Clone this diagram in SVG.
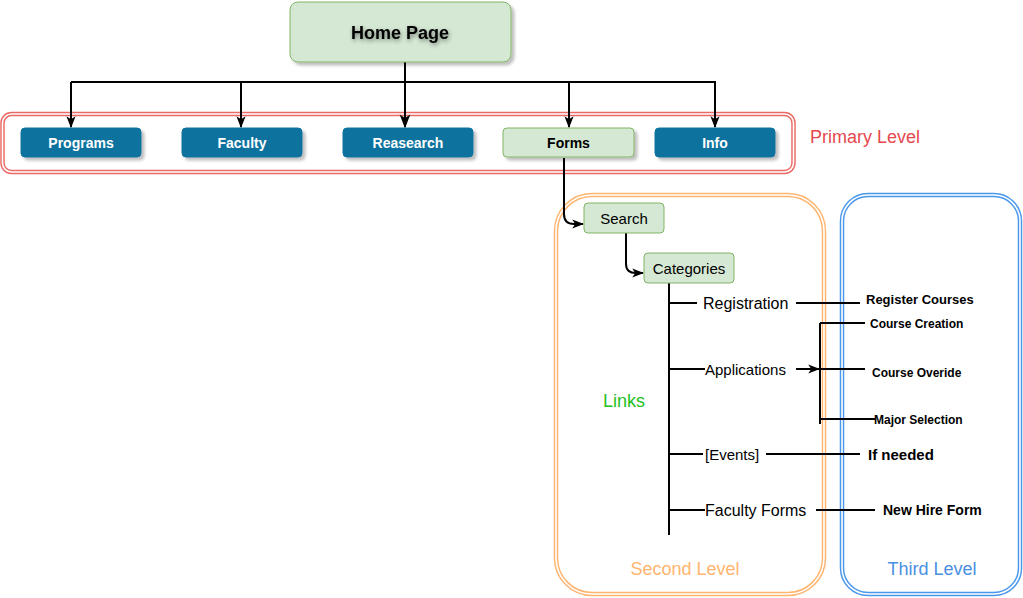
<svg xmlns="http://www.w3.org/2000/svg" width="1023" height="598" viewBox="0 0 1023 598">
<style>
text{font-family:"Liberation Sans",Arial,sans-serif}
.green{fill:#d5e8d4;stroke:#82b366;stroke-width:1}
.blue{fill:#10739e;stroke:#10739e;stroke-width:1}
.wt{fill:#ffffff;font-size:14px;font-weight:bold;text-anchor:middle}
.bt{fill:#000000;font-weight:bold}
.rt{fill:#000000;font-size:15px}
.ln{stroke:#000000;stroke-width:2;fill:none}
.dbl{fill:none;stroke-width:4.5}
.dblw{fill:none;stroke:#ffffff;stroke-width:1.6}
</style>
<defs>
<filter id="sh" x="-10%" y="-20%" width="130%" height="160%">
<feDropShadow dx="3" dy="3" stdDeviation="1.5" flood-color="#000" flood-opacity="0.25"/>
</filter>
<filter id="tsh" x="-10%" y="-30%" width="130%" height="170%">
<feDropShadow dx="1" dy="2" stdDeviation="2" flood-color="#000" flood-opacity="0.45"/>
</filter>
<marker id="arL" viewBox="0 0 10 10" refX="9" refY="5" markerWidth="12" markerHeight="12" orient="auto" markerUnits="userSpaceOnUse">
<path d="M0,1.2 L10,5 L0,8.8 L2.5,5 Z" fill="#000"/>
</marker>
<marker id="ar2" viewBox="0 0 10 10" refX="9" refY="5" markerWidth="14" markerHeight="14" orient="auto" markerUnits="userSpaceOnUse">
<path d="M0,1.2 L10,5 L0,8.8 L2.5,5 Z" fill="#000"/>
</marker>
</defs>

<g id="containers">
<g id="primary-level">
<rect x="2.5" y="114" width="791" height="58" rx="9" class="dbl" stroke="#ea6b66"/>
<rect x="2.5" y="114" width="791" height="58" rx="9" class="dblw"/>
<text x="810" y="137" font-size="18" fill="#e5484d" dominant-baseline="central">Primary Level</text>
</g>
<g id="second-level">
<rect x="556" y="195" width="268" height="399" rx="36" class="dbl" stroke="#ffb570"/>
<rect x="556" y="195" width="268" height="399" rx="36" class="dblw"/>
<text x="685" y="569" font-size="18" fill="#ffb570" text-anchor="middle" dominant-baseline="central">Second Level</text>
</g>
<g id="third-level">
<rect x="842" y="195" width="178" height="399" rx="26" class="dbl" stroke="#4a98ec"/>
<rect x="842" y="195" width="178" height="399" rx="26" class="dblw"/>
<text x="932" y="569" font-size="18" fill="#4a90e2" text-anchor="middle" dominant-baseline="central">Third Level</text>
</g>
</g>

<g id="connectors">
<path class="ln" d="M405,62 L405,82" stroke-width="3"/>
<path class="ln" d="M71,82 L716,82"/>
<path class="ln" d="M71,82 L71,127" marker-end="url(#arL)"/>
<path class="ln" d="M241,82 L241,127" marker-end="url(#arL)"/>
<path class="ln" d="M405,82 L405,127" stroke-width="3" marker-end="url(#ar2)"/>
<path class="ln" d="M569,82 L569,127" marker-end="url(#arL)"/>
<path class="ln" d="M715,82 L715,127" marker-end="url(#arL)"/>
<path class="ln" d="M564,158 L564,214 Q564,224 574,224 L583,224" marker-end="url(#arL)"/>
<path class="ln" d="M626,233 L626,264 Q626,273 636,273 L643,273" marker-end="url(#arL)"/>
<path class="ln" d="M669,283 L669,535"/>
<path class="ln" d="M669,303 L697,303"/>
<path class="ln" d="M796,303 L860,303"/>
<path class="ln" d="M669,369 L705,369"/>
<path class="ln" d="M796,369 L819,369" marker-end="url(#arL)"/>
<path class="ln" d="M820,323 L820,424"/>
<path class="ln" d="M820,323 L865,323"/>
<path class="ln" d="M820,369 L865,369"/>
<path class="ln" d="M820,419 L875,419"/>
<path class="ln" d="M669,454 L703,454"/>
<path class="ln" d="M766,454 L860,454"/>
<path class="ln" d="M669,510 L705,510"/>
<path class="ln" d="M816,510 L875,510"/>
</g>

<g id="home-page">
<rect x="290" y="2" width="221" height="60" rx="8" class="green" filter="url(#sh)"/>
<text x="400" y="33" font-size="18" class="bt" text-anchor="middle" dominant-baseline="central" filter="url(#tsh)">Home Page</text>
</g>
<g id="programs">
<rect x="21" y="128" width="120" height="29" rx="4" class="blue" filter="url(#sh)"/>
<text x="81" y="142.5" class="wt" dominant-baseline="central">Programs</text>
</g>
<g id="faculty">
<rect x="182" y="128" width="120" height="29" rx="4" class="blue" filter="url(#sh)"/>
<text x="242" y="142.5" class="wt" dominant-baseline="central">Faculty</text>
</g>
<g id="reasearch">
<rect x="343" y="128" width="130" height="29" rx="4" class="blue" filter="url(#sh)"/>
<text x="408" y="142.5" class="wt" dominant-baseline="central">Reasearch</text>
</g>
<g id="forms">
<rect x="503" y="128" width="131" height="29" rx="4" class="green" filter="url(#sh)"/>
<text x="568.5" y="142.5" class="bt" font-size="14" text-anchor="middle" dominant-baseline="central">Forms</text>
</g>
<g id="info">
<rect x="655" y="128" width="120" height="29" rx="4" class="blue" filter="url(#sh)"/>
<text x="715" y="142.5" class="wt" dominant-baseline="central">Info</text>
</g>
<g id="search">
<rect x="584" y="203" width="80" height="30" rx="4" class="green"/>
<text x="624" y="218" class="rt" text-anchor="middle" dominant-baseline="central">Search</text>
</g>
<g id="categories">
<rect x="644" y="253" width="90" height="30" rx="4" class="green"/>
<text x="689" y="268" class="rt" text-anchor="middle" dominant-baseline="central">Categories</text>
</g>
<g id="links">
<text x="624" y="401" font-size="18" fill="#22c022" text-anchor="middle" dominant-baseline="central">Links</text>
</g>
<g id="registration"><text x="703" y="303" font-size="16" fill="#000" dominant-baseline="central">Registration</text></g>
<g id="applications"><text x="705" y="369" class="rt" dominant-baseline="central">Applications</text></g>
<g id="events"><text x="705" y="454" class="rt" dominant-baseline="central">[Events]</text></g>
<g id="faculty-forms"><text x="705" y="510" font-size="16" fill="#000" dominant-baseline="central">Faculty Forms</text></g>
<g id="register-courses"><text x="866" y="299" font-size="13" class="bt" dominant-baseline="central">Register Courses</text></g>
<g id="course-creation"><text x="870" y="324" font-size="12" class="bt" dominant-baseline="central">Course Creation</text></g>
<g id="course-overide"><text x="872" y="373" font-size="12" class="bt" dominant-baseline="central">Course Overide</text></g>
<g id="major-selection"><text x="874" y="420" font-size="12" class="bt" dominant-baseline="central">Major Selection</text></g>
<g id="if-needed"><text x="868" y="454" font-size="15" class="bt" dominant-baseline="central">If needed</text></g>
<g id="new-hire-form"><text x="883" y="510" font-size="14" class="bt" dominant-baseline="central">New Hire Form</text></g>
</svg>
